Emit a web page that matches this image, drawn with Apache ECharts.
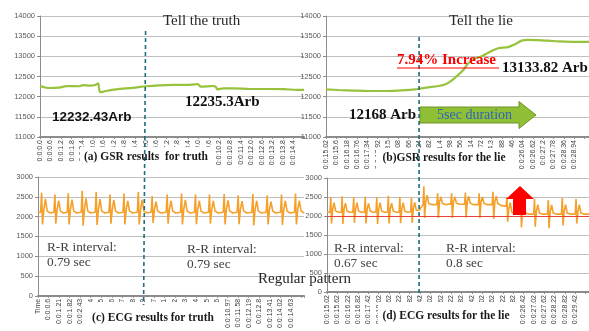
<!DOCTYPE html>
<html><head><meta charset="utf-8">
<script src="https://cdn.jsdelivr.net/npm/echarts@6/dist/echarts.min.js"></script>
<style>html,body{margin:0;padding:0;background:#fff}#c{width:589px;height:331px}</style>
</head><body><div id="c"></div>
<script>
// ---- tick labels ----
const labelsA = ['0:0:0.0','0:0:0.6','0:0:1.2','0:0:1.8','0:0:2.4','0:0:3.0','0:0:3.6','0:0:4.2','0:0:4.8','0:0:5.4','0:0:6.0','0:0:6.6','0:0:7.2','0:0:7.8','0:0:8.4','0:0:9.0','0:0:9.6','0:0:10.2','0:0:10.8','0:0:11.4','0:0:12.0','0:0:12.6','0:0:13.2','0:0:13.8','0:0:14.4'];
const labelsB = ['0:0:15.02','0:0:15.6','0:0:16.18','0:0:16.76','0:0:17.34','0:0:17.92','0:0:18.5','0:0:19.08','0:0:19.66','0:0:20.24','0:0:20.82','0:0:21.4','0:0:21.98','0:0:22.56','0:0:23.14','0:0:23.72','0:0:24.3','0:0:24.88','0:0:25.46','0:0:26.04','0:0:26.62','0:0:27.2','0:0:27.78','0:0:28.36','0:0:28.94'];
const labelsC = ['Time','0:0:0.6','0:0:1.21','0:0:1.82','0:0:2.43','0:0:3.04','0:0:3.65','0:0:4.26','0:0:4.87','0:0:5.48','0:0:6.09','0:0:6.7','0:0:7.31','0:0:7.92','0:0:8.53','0:0:9.14','0:0:9.75','0:0:10.36','0:0:10.97','0:0:11.58','0:0:12.19','0:0:12.8','0:0:13.41','0:0:14.02','0:0:14.63'];
const labelsD = ['0:0:15.02','0:0:15.62','0:0:16.22','0:0:16.82','0:0:17.42','0:0:18.02','0:0:18.62','0:0:19.22','0:0:19.82','0:0:20.42','0:0:21.02','0:0:21.62','0:0:22.22','0:0:22.82','0:0:23.42','0:0:24.02','0:0:24.62','0:0:25.22','0:0:25.82','0:0:26.42','0:0:27.02','0:0:27.62','0:0:28.22','0:0:28.82','0:0:29.42'];

// ---- GSR, tell the truth (time s, value Arb) ----
const gsrTruth = [[0.0,12265],[0.5,12215],[1.1,12225],[1.5,12262],[2.2,12258],[2.45,12288],[2.8,12272],[3.15,12290],[3.3,12330],[3.42,12110],[3.75,12140],[4.33,12180],[5.28,12220],[6.04,12258],[6.8,12280],[7.56,12290],[8.33,12290],[8.95,12310],[9.15,12250],[9.85,12265],[10.0,12235],[10.08,12180],[10.42,12205],[11.0,12205],[11.94,12190],[12.9,12190],[13.85,12185],[14.6,12170],[15.0,12170]];
// ---- GSR, tell the lie ----
const gsrLie = [[15.02,12180],[15.7,12165],[16.63,12150],[17.56,12140],[18.5,12140],[19.44,12160],[20.0,12180],[20.37,12205],[20.75,12230],[21.31,12265],[21.69,12300],[22.06,12400],[22.44,12540],[22.72,12660],[23.0,12830],[23.37,12950],[23.75,13000],[24.12,13090],[24.68,13200],[25.24,13230],[25.62,13300],[25.99,13390],[26.37,13410],[26.93,13400],[27.49,13390],[28.05,13370],[28.8,13360],[29.8,13360]];

// ---- ECG, tell the truth ----
const ecgTruth = [[0,2100],
[0.15,2110],[0.21,2600],[0.26,1800],[0.34,2180],[0.43,2450],[0.53,2140],[0.71,2090],
[0.92,2110],[0.98,2560],[1.03,1820],[1.11,2180],[1.20,2400],[1.30,2140],[1.48,2090],
[1.69,2110],[1.75,2590],[1.80,1800],[1.88,2180],[1.97,2430],[2.07,2140],[2.25,2090],
[2.50,2110],[2.56,2650],[2.61,1770],[2.69,2180],[2.78,2460],[2.88,2140],[3.06,2090],
[3.31,2110],[3.37,2620],[3.42,1790],[3.50,2180],[3.59,2440],[3.69,2140],[3.87,2090],
[4.11,2110],[4.17,2560],[4.22,1820],[4.30,2180],[4.39,2420],[4.49,2140],[4.67,2090],
[4.92,2110],[4.98,2580],[5.03,1800],[5.11,2180],[5.20,2400],[5.30,2140],[5.48,2090],
[5.75,2110],[5.81,2620],[5.86,1800],[5.94,2180],[6.03,2430],[6.13,2140],[6.31,2090],
[6.55,2110],[6.61,2520],[6.66,1840],[6.74,2180],[6.83,2380],[6.93,2140],[7.11,2090],
[7.42,2110],[7.48,2560],[7.53,1820],[7.61,2180],[7.70,2400],[7.80,2140],[7.98,2090],
[8.25,2110],[8.31,2580],[8.36,1800],[8.44,2180],[8.53,2420],[8.63,2140],[8.81,2090],
[9.06,2110],[9.12,2560],[9.17,1810],[9.25,2180],[9.34,2400],[9.44,2140],[9.62,2090],
[9.87,2110],[9.93,2560],[9.98,1820],[10.06,2180],[10.15,2400],[10.25,2140],[10.43,2090],
[10.72,2110],[10.78,2570],[10.83,1800],[10.91,2180],[11.00,2410],[11.10,2140],[11.28,2090],
[11.53,2110],[11.59,2540],[11.64,1810],[11.72,2180],[11.81,2390],[11.91,2140],[12.09,2090],
[12.38,2110],[12.44,2570],[12.49,1780],[12.57,2180],[12.66,2400],[12.76,2140],[12.94,2090],
[13.21,2110],[13.27,2540],[13.32,1800],[13.40,2180],[13.49,2380],[13.59,2140],[13.77,2090],
[14.04,2110],[14.10,2560],[14.15,1790],[14.23,2180],[14.32,2400],[14.42,2140],[14.60,2090],
[14.85,2110],[14.91,2580],[14.96,1800],[15.04,2180],[15.13,2400],[15.23,2140],[15.41,2090]];

// ---- ECG, tell the lie ----
const ecgLie = [[15.02,2100],
[15.19,2100],[15.24,2500],[15.28,1800],[15.35,2180],[15.43,2350],[15.52,2130],[15.69,2100],
[15.85,2100],[15.90,2520],[15.94,1790],[16.01,2180],[16.09,2340],[16.18,2130],[16.35,2100],
[16.52,2100],[16.57,2490],[16.61,1820],[16.68,2180],[16.76,2350],[16.85,2130],[17.02,2100],
[17.19,2100],[17.24,2510],[17.28,1800],[17.35,2180],[17.43,2330],[17.52,2130],[17.69,2100],
[17.86,2100],[17.91,2500],[17.95,1790],[18.02,2180],[18.10,2350],[18.19,2130],[18.36,2100],
[18.53,2100],[18.58,2530],[18.62,1800],[18.69,2180],[18.77,2340],[18.86,2130],[19.03,2100],
[19.20,2100],[19.25,2500],[19.29,1810],[19.36,2180],[19.44,2350],[19.53,2130],[19.70,2100],
[19.87,2110],[19.92,2480],[19.96,1820],[20.03,2200],[20.11,2360],[20.20,2150],[20.37,2150],
[20.59,2300],[20.64,2780],[20.68,1950],[20.75,2380],[20.83,2550],[20.92,2330],[21.09,2300],
[21.39,2300],[21.44,2600],[21.48,1950],[21.55,2380],[21.63,2500],[21.72,2330],[21.89,2300],
[22.20,2320],[22.25,2600],[22.29,1950],[22.36,2380],[22.44,2500],[22.53,2340],[22.70,2310],
[23.00,2310],[23.05,2620],[23.09,1960],[23.16,2380],[23.24,2520],[23.33,2340],[23.50,2300],
[23.80,2300],[23.85,2600],[23.89,1950],[23.96,2380],[24.04,2500],[24.13,2330],[24.30,2300],
[24.60,2300],[24.65,2640],[24.69,1920],[24.76,2380],[24.84,2520],[24.93,2330],[25.10,2280],
[25.41,2250],[25.46,2500],[25.50,1850],[25.57,2200],[25.65,2350],[25.74,2100],[25.91,2050],
[26.21,2050],[26.26,2450],[26.30,1700],[26.37,2120],[26.45,2300],[26.54,2080],[26.71,2050],
[27.01,2050],[27.06,2450],[27.10,1720],[27.17,2120],[27.25,2300],[27.34,2080],[27.51,2050],
[27.81,2050],[27.86,2420],[27.90,1680],[27.97,2120],[28.05,2290],[28.14,2080],[28.31,2050],
[28.62,2050],[28.67,2480],[28.71,1750],[28.78,2120],[28.86,2300],[28.95,2080],[29.12,2050],
[29.42,2050],[29.47,2450],[29.51,1800],[29.58,2120],[29.66,2300],[29.75,2080],[29.92,2050],[30.3,2050]];

const startA = 0, startB = 15.02, startC = 0, startD = 15.02;
const cueA = 6.0, cueB = 20.24;

const chart = echarts.init(document.getElementById('c'), null, {renderer: 'canvas'});
const SANS = '"Liberation Sans", Arial, sans-serif';
const SERIF = '"Liberation Serif", "Times New Roman", serif';

function fmt(labels, step) {
  return function (v) {
    const i = Math.round(v / step);
    if (Math.abs(v - i * step) > 1e-6) return '';
    return labels[i] || '';
  };
}
function xAxis(gi, max, step, labels) {
  return {
    type: 'value', gridIndex: gi, min: 0, max: max, interval: step,
    axisLine: {show: true, lineStyle: {color: '#8c8c8c', width: 2}},
    axisTick: {show: true, length: 2, lineStyle: {color: '#8c8c8c'}},
    splitLine: {show: false},
    axisLabel: {rotate: 90, fontSize: 7, margin: 3, color: '#404040', fontFamily: SANS, formatter: fmt(labels, step), showMinLabel: true, showMaxLabel: true}
  };
}
function yAxis(gi, min, max) {
  return {
    type: 'value', gridIndex: gi, min: min, max: max, interval: 500,
    axisLine: {show: true, lineStyle: {color: '#8c8c8c', width: 1}},
    axisTick: {show: true, length: 3, lineStyle: {color: '#8c8c8c'}},
    splitLine: {show: true, lineStyle: {color: '#bfbfbf', width: 1}},
    axisLabel: {fontSize: 7.5, margin: 5, color: '#595959', fontFamily: SANS, formatter: v => String(v)}
  };
}
const shift = (arr, s) => arr.map(p => [p[0] - s, p[1]]);

chart.setOption({
  animation: false,
  backgroundColor: '#ffffff',
  grid: [
    {left: 40, top: 16, width: 264, height: 121},
    {left: 326, top: 16, width: 263, height: 121},
    {left: 38, top: 177, width: 266, height: 130},
    {left: 327, top: 178, width: 262, height: 114}
  ],
  xAxis: [xAxis(0, 15.0, 0.6, labelsA), xAxis(1, 14.75, 0.58, labelsB), xAxis(2, 15.4, 0.61, labelsC), xAxis(3, 15.2, 0.6, labelsD)],
  yAxis: [yAxis(0, 11000, 14000), yAxis(1, 11000, 14000), yAxis(2, 0, 3000), yAxis(3, 0, 3000)],
  series: [
    {type: 'line', xAxisIndex: 0, yAxisIndex: 0, data: shift(gsrTruth, startA), showSymbol: false, smooth: 0.3, lineStyle: {color: '#97c23c', width: 2.2}},
    {type: 'line', xAxisIndex: 1, yAxisIndex: 1, data: shift(gsrLie, startB), showSymbol: false, smooth: 0.3, lineStyle: {color: '#97c23c', width: 2.2}},
    {type: 'line', xAxisIndex: 2, yAxisIndex: 2, data: shift(ecgTruth, startC), showSymbol: false, lineStyle: {color: '#f5a02a', width: 1.6}},
    {type: 'line', xAxisIndex: 3, yAxisIndex: 3, data: shift(ecgLie, startD), showSymbol: false, lineStyle: {color: '#f5a02a', width: 1.6},
      markLine: {silent: true, symbol: 'none', label: {show: false}, lineStyle: {color: '#e8403a', width: 1.2, type: 'solid'}, data: [{yAxis: 2000}]}}
  ]
});

// annotations
const xa = chart.convertToPixel({xAxisIndex: 0}, cueA - startA);
const xb = chart.convertToPixel({xAxisIndex: 1}, cueB - startB);
const txt = (x, y, s, font, fill, align) => ({type: 'text', x: x, y: y, z: 110, style: {text: s, font: font, fill: fill, textAlign: align || 'left', textVerticalAlign: 'middle'}});
const box = (x, y, w, h) => ({type: 'rect', z: 105, shape: {x: x, y: y, width: w, height: h}, style: {fill: '#ffffff'}});
const g = [
  {type: 'line', z: 108, shape: {x1: xa, y1: 31, x2: xa - 2, y2: 305}, style: {stroke: '#1f6e80', lineWidth: 1.6, lineDash: [4, 3]}},
  {type: 'line', z: 108, shape: {x1: xb, y1: 37, x2: xb, y2: 297}, style: {stroke: '#1f6e80', lineWidth: 1.6, lineDash: [4, 3]}},
  box(80, 147, 136, 22), box(376, 148, 138, 23), box(84, 302, 138, 29), box(378, 302, 137, 29),
  txt(146, 157, '(a) GSR results  for truth', 'bold 11.5px ' + SERIF, '#1a1a1a', 'center'),
  txt(444, 158, '(b)GSR results for the lie', 'bold 11.5px ' + SERIF, '#1a1a1a', 'center'),
  txt(153, 318, '(c) ECG results for truth', 'bold 11.5px ' + SERIF, '#1a1a1a', 'center'),
  txt(446, 316, '(d) ECG results for the lie', 'bold 11.5px ' + SERIF, '#1a1a1a', 'center'),
  txt(163, 21, 'Tell the truth', '15px ' + SERIF, '#262626'),
  txt(449, 21, 'Tell the lie', '15px ' + SERIF, '#262626'),
  txt(52, 117, '12232.43Arb', 'bold 13.5px ' + SANS, '#111111'),
  txt(185, 102, '12235.3Arb', 'bold 15px ' + SERIF, '#111111'),
  {type: 'polygon', z: 106, shape: {points: [[420, 107], [519, 107], [519, 101.5], [536, 115], [519, 128.5], [519, 123], [420, 123]]}, style: {fill: '#8fbf35', stroke: '#6f9428', lineWidth: 1}},
  txt(437, 115.5, '5sec duration', '14px ' + SERIF, '#2e64b5'),
  txt(349, 115.5, '12168 Arb', 'bold 15px ' + SERIF, '#111111'),
  txt(397, 60.5, '7.94% Increase', 'bold 15px ' + SERIF, '#ff0000'),
  {type: 'line', z: 110, shape: {x1: 397, y1: 68, x2: 499, y2: 68}, style: {stroke: '#ff0000', lineWidth: 1}},
  txt(502, 68.5, '13133.82 Arb', 'bold 15px ' + SERIF, '#111111'),
  txt(47, 248, 'R-R interval:', '13.3px ' + SERIF, '#404040'),
  txt(47, 263, '0.79 sec', '13.3px ' + SERIF, '#404040'),
  txt(187, 250, 'R-R interval:', '13.3px ' + SERIF, '#404040'),
  txt(187, 265, '0.79 sec', '13.3px ' + SERIF, '#404040'),
  txt(334, 249, 'R-R interval:', '13.3px ' + SERIF, '#404040'),
  txt(334, 264, '0.67 sec', '13.3px ' + SERIF, '#404040'),
  txt(446, 249, 'R-R interval:', '13.3px ' + SERIF, '#404040'),
  txt(446, 264, '0.8 sec', '13.3px ' + SERIF, '#404040'),
  txt(258, 279, 'Regular pattern', '15px ' + SERIF, '#262626'),
  {type: 'polygon', z: 107, shape: {points: [[513, 215], [513, 199], [506, 199], [520, 186], [534, 199], [526, 199], [526, 215]]}, style: {fill: '#ff0000'}}
];
chart.setOption({graphic: g});
</script>
</body></html>
